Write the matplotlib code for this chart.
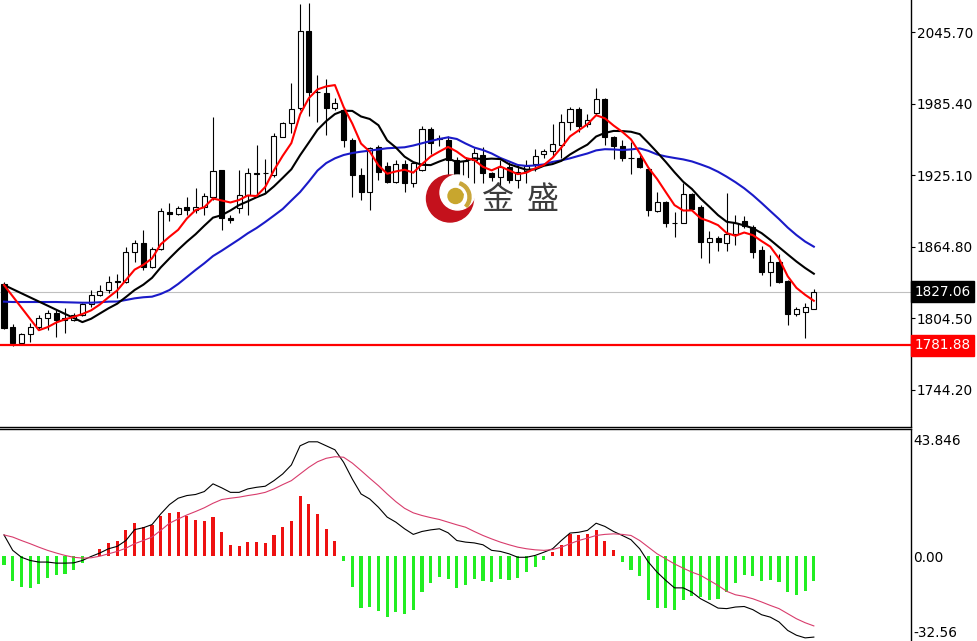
import numpy as np
import pandas as pd
import matplotlib
matplotlib.use("Agg")
import matplotlib.pyplot as plt
from matplotlib.patches import Circle, Wedge

# ---------------- data ----------------
opens = [1833.2, 1797.5, 1784.0, 1791.4, 1797.1, 1804.6, 1809.3, 1803.2, 1803.2, 1807.4,
         1816.6, 1824.2, 1828.4, 1835.4, 1835.4, 1860.7, 1867.9, 1848.0, 1862.7, 1894.4,
         1892.4, 1898.6, 1895.8, 1898.6, 1907.0, 1929.5, 1889.3, 1897.2, 1908.4, 1926.7,
         1926.7, 1925.2, 1957.5, 1968.8, 1981.4, 2046.8, 1995.4, 1994.6, 1981.4, 1980.0,
         1954.7, 1925.2, 1911.2, 1948.5, 1932.8, 1919.6, 1934.9, 1918.3, 1929.5, 1963.7,
         1956.1, 1954.7, 1937.9, 1915.5, 1937.9, 1942.1, 1926.7, 1923.2, 1931.7, 1921.0,
         1929.0, 1934.9, 1942.8, 1945.4, 1950.5, 1970.1, 1980.6, 1968.2, 1977.2, 1989.0,
         1957.0, 1949.7, 1940.0, 1939.8, 1929.9, 1895.2, 1902.3, 1885.2, 1885.0, 1909.0,
         1898.7, 1869.1, 1871.8, 1868.4, 1875.6, 1886.9, 1881.7, 1862.1, 1843.6, 1852.4,
         1836.4, 1808.2, 1810.3, 1812.8]
highs = [1834.9, 1799.8, 1792.0, 1800.4, 1807.4, 1811.6, 1811.6, 1813.3, 1808.8, 1817.7,
         1828.4, 1832.6, 1840.2, 1842.3, 1864.9, 1870.5, 1878.9, 1864.9, 1897.2, 1901.9,
         1899.1, 1907.0, 1914.0, 1909.9, 1974.3, 1929.5, 1891.6, 1929.5, 1930.9, 1950.5,
         1938.5, 1960.4, 1970.1, 2002.5, 2069.3, 2070.4, 2009.5, 2005.9, 1989.9, 1981.4,
         1956.1, 1930.9, 1948.5, 1950.5, 1936.4, 1937.9, 1937.9, 1936.4, 1966.2, 1966.0,
         1958.9, 1957.7, 1940.6, 1940.6, 1948.4, 1949.1, 1928.0, 1937.9, 1936.4, 1933.7,
         1937.9, 1947.4, 1947.4, 1967.8, 1976.6, 1982.8, 1982.5, 1976.6, 1998.3, 1990.1,
         1958.1, 1954.7, 1953.0, 1942.1, 1932.2, 1911.2, 1903.4, 1894.4, 1918.2, 1909.7,
         1900.0, 1878.1, 1873.9, 1909.9, 1892.0, 1890.5, 1883.1, 1865.5, 1857.9, 1858.7,
         1836.8, 1814.1, 1817.5, 1829.0]
lows = [1795.6, 1781.0, 1783.8, 1784.9, 1794.7, 1794.7, 1788.6, 1792.2, 1802.6, 1806.5,
        1814.4, 1823.6, 1825.7, 1821.4, 1834.1, 1852.2, 1845.2, 1846.7, 1862.1, 1886.8,
        1891.6, 1891.6, 1893.0, 1891.6, 1904.2, 1878.9, 1884.6, 1893.0, 1891.6, 1907.0,
        1909.9, 1923.8, 1957.0, 1960.4, 1980.0, 1974.9, 1970.1, 1958.9, 1980.0, 1949.1,
        1907.0, 1904.2, 1895.8, 1921.0, 1918.3, 1918.3, 1911.2, 1915.5, 1928.4, 1942.7,
        1950.1, 1915.5, 1912.6, 1908.4, 1918.3, 1918.3, 1920.2, 1915.5, 1918.7, 1914.0,
        1918.3, 1928.4, 1939.6, 1940.6, 1939.6, 1963.1, 1961.7, 1965.9, 1976.2, 1950.5,
        1938.4, 1937.0, 1926.0, 1930.8, 1890.7, 1894.4, 1881.7, 1873.0, 1884.6, 1895.8,
        1855.2, 1850.9, 1861.3, 1861.3, 1866.3, 1881.0, 1855.4, 1841.0, 1831.4, 1834.1,
        1798.9, 1806.9, 1787.9, 1812.0]
closes = [1796.1, 1783.6, 1791.4, 1797.1, 1804.6, 1808.8, 1803.2, 1804.9, 1807.4, 1816.6,
          1824.2, 1827.8, 1835.4, 1836.0, 1860.7, 1867.9, 1848.0, 1862.7, 1895.2, 1892.4,
          1897.2, 1895.8, 1897.9, 1907.6, 1928.9, 1888.8, 1887.4, 1908.4, 1926.7, 1926.4,
          1926.9, 1958.1, 1968.8, 1980.6, 2046.8, 1995.4, 1995.2, 1981.4, 1986.2, 1954.7,
          1925.2, 1911.2, 1947.7, 1928.0, 1919.6, 1934.9, 1918.3, 1935.4, 1963.7, 1952.1,
          1955.6, 1937.9, 1915.5, 1937.0, 1943.5, 1926.7, 1923.2, 1931.7, 1920.8, 1927.5,
          1933.2, 1941.2, 1945.7, 1951.3, 1970.3, 1980.6, 1966.5, 1971.6, 1989.0, 1957.5,
          1950.1, 1940.0, 1939.8, 1931.7, 1895.8, 1902.3, 1884.6, 1885.0, 1909.0, 1896.4,
          1869.1, 1871.8, 1868.8, 1875.6, 1885.2, 1882.7, 1860.8, 1843.6, 1852.2, 1835.1,
          1808.2, 1812.0, 1814.3, 1827.06]

ma_slow = [1818.6, 1818.3, 1818.3, 1818.3, 1818.3, 1818.3, 1818.3, 1818.1, 1817.9, 1817.7,
           1817.7, 1818.1, 1818.6, 1818.7, 1820.0, 1821.4, 1822.3, 1822.8, 1825.1, 1828.4,
           1833.5, 1839.4, 1845.3, 1850.9, 1857.0, 1861.5, 1866.3, 1871.1, 1876.2, 1880.6,
           1885.7, 1891.1, 1896.6, 1903.8, 1910.9, 1919.7, 1929.0, 1935.3, 1939.3, 1942.1,
           1943.8, 1944.9, 1945.8, 1946.8, 1947.8, 1948.2, 1948.6, 1950.1, 1952.0, 1953.9,
           1955.6, 1957.0, 1955.6, 1951.8, 1948.4, 1946.3, 1943.4, 1939.6, 1936.7, 1933.7,
           1932.9, 1933.3, 1934.2, 1936.3, 1937.6, 1939.3, 1941.4, 1943.4, 1946.0, 1947.0,
           1946.8, 1946.3, 1946.8, 1947.7, 1945.6, 1942.6, 1940.9, 1939.6, 1938.4, 1936.7,
           1934.2, 1931.5, 1928.0, 1923.8, 1919.2, 1914.1, 1908.2, 1901.7, 1894.9, 1888.2,
           1881.0, 1874.7, 1869.2, 1864.9]
ma_fast_start = 1832.6
ma_mid_start = 1832.6

macd_dif = [8.1, 2.3, -0.3, -1.5, -2.1, -2.1, -2.5, -2.5, -2.4, -1.5,
            0.0, 1.3, 2.9, 3.8, 6.0, 10.1, 10.8, 12.0, 16.0, 19.5,
            21.9, 22.9, 23.3, 24.4, 27.3, 25.8, 24.1, 24.1, 25.4, 26.0,
            26.4, 28.5, 31.0, 34.4, 41.6, 43.1, 43.1, 41.6, 40.1, 35.4,
            29.1, 23.5, 21.6, 18.5, 14.8, 12.9, 10.4, 8.3, 9.4, 10.0,
            10.4, 8.9, 6.0, 5.4, 5.1, 4.4, 2.3, 1.9, 1.0, -0.3,
            -0.3, 0.4, 1.6, 2.9, 6.0, 8.8, 9.1, 9.8, 12.5, 11.3,
            9.4, 7.9, 6.3, 2.9, -2.1, -5.9, -9.0, -11.8, -11.8, -13.4,
            -15.9, -17.6, -19.4, -19.6, -19.0, -18.8, -20.0, -21.9, -22.8, -24.6,
            -27.8, -29.6, -30.6, -30.3]
macd_dea = [8.1, 7.3, 6.0, 4.8, 3.5, 2.3, 1.3, 0.4, -0.3, -0.6,
            -0.5, 0.1, 1.0, 1.9, 3.1, 4.8, 6.0, 7.3, 9.8, 12.5,
            14.1, 15.6, 16.9, 18.3, 20.0, 21.4, 21.9, 22.3, 22.9, 23.4,
            24.1, 25.4, 27.0, 28.5, 31.0, 33.5, 35.6, 36.9, 37.5, 37.3,
            35.1, 32.3, 29.4, 26.6, 23.5, 20.6, 18.1, 16.4, 15.4, 14.6,
            13.9, 12.9, 11.9, 11.0, 9.4, 7.9, 6.6, 5.4, 4.4, 3.5,
            2.9, 2.5, 2.3, 2.6, 3.5, 4.8, 6.0, 6.9, 7.9, 8.3,
            8.5, 8.3, 7.9, 6.0, 3.5, 1.0, -0.9, -2.8, -4.4, -5.9,
            -7.1, -9.0, -10.9, -13.1, -14.4, -15.0, -15.9, -17.1, -18.4, -19.6,
            -21.5, -23.4, -24.9, -26.1]
macd_hist = [-3.1, -9.3, -11.5, -11.9, -10.3, -8.1, -7.1, -6.5, -4.9, -2.4,
             0.3, 2.9, 4.9, 6.0, 9.8, 12.7, 11.0, 11.7, 15.2, 16.4,
             16.8, 15.4, 13.8, 13.5, 14.7, 9.3, 4.5, 4.1, 5.3, 5.6,
             4.9, 8.1, 11.0, 13.2, 22.6, 19.7, 16.0, 10.2, 6.0, -1.6,
             -11.5, -19.4, -19.0, -20.6, -22.6, -20.9, -21.8, -20.0, -13.4, -9.9,
             -7.8, -8.6, -11.9, -10.6, -8.6, -9.4, -9.6, -8.6, -8.8, -8.1,
             -5.9, -4.0, -1.5, 1.5, 4.4, 8.5, 7.9, 8.3, 9.9, 6.0,
             2.3, -2.1, -4.9, -7.4, -16.3, -19.3, -19.3, -20.1, -16.3, -14.7,
             -15.3, -16.3, -15.9, -13.2, -9.9, -6.9, -7.4, -9.4, -9.0, -9.6,
             -13.4, -14.3, -13.0, -9.3]

price_ticks = [2045.70, 1985.40, 1925.10, 1864.80, 1804.50, 1744.20]
macd_ticks = [43.846, 0.00]
macd_tick_labels = ['43.846', '0.00']
macd_low_label = -32.56
last_price = 1827.06
support_level = 1781.88
watermark = ['金', '盛']

# ---------------- figure ----------------
W, H = 977, 641
fig = plt.figure(figsize=(W / 100, H / 100), dpi=100)
fig.patch.set_facecolor('white')

right_px = 910.5
main_bottom_px = 426.7
macd_top_px = 429.3

ax = fig.add_axes([0, 1 - main_bottom_px / H, right_px / W, main_bottom_px / H])
axm = fig.add_axes([0, 0, right_px / W, 1 - macd_top_px / H])

n = len(closes)
x = np.arange(n)
o = np.array(opens)
c = np.array(closes)
hi = np.array(highs)
lo = np.array(lows)
up = c >= o

xlim = (-0.46, 104.1)

# candles
ax.vlines(x, lo, hi, color='black', lw=0.8, zorder=2)
bb = np.minimum(o, c)
bh = np.maximum(np.abs(c - o), 0.15)
ax.bar(x[up], bh[up], bottom=bb[up], width=0.58, facecolor='white',
       edgecolor='black', lw=0.8, zorder=3)
ax.bar(x[~up], bh[~up], bottom=bb[~up], width=0.58, facecolor='black',
       edgecolor='black', lw=0.8, zorder=3)

# moving averages
cs = pd.Series(closes)
ma5 = cs.rolling(5).mean()
ma10 = cs.rolling(10).mean()


def with_start(ma, start):
    valid = ma.notna().values
    xs = np.concatenate([[0], x[valid]])
    ys = np.concatenate([[start], ma.values[valid]])
    return xs, ys


ax.plot(x, ma_slow, color='#1a1ac8', lw=1.5, zorder=4)
xs, ys = with_start(ma10, ma_mid_start)
ax.plot(xs, ys, color='black', lw=1.5, zorder=5)
xs, ys = with_start(ma5, ma_fast_start)
ax.plot(xs, ys, color='#ff0000', lw=1.5, zorder=6)

ax.axhline(last_price, color='#c0c0c0', lw=0.8, zorder=1)
ax.axhline(support_level, color='#ff0000', lw=1.6, zorder=7)

ax.set_xlim(*xlim)
ax.set_ylim(1713.29, 2072.65)
ax.yaxis.tick_right()
ax.set_yticks(price_ticks)
ax.set_yticklabels([f'{v:.2f}' for v in price_ticks])
ax.tick_params(axis='y', length=3, width=0.8, pad=1.6, labelsize=9.8, colors='black')
ax.tick_params(axis='x', bottom=False, labelbottom=False)
for s in ['top', 'left']:
    ax.spines[s].set_visible(False)
for s in ['right', 'bottom']:
    ax.spines[s].set_color('black')
    ax.spines[s].set_linewidth(1.0)

ax.annotate(f'{last_price:.2f}', xy=(1, last_price), xycoords=('axes fraction', 'data'),
            xytext=(3.0, 0), textcoords='offset points', ha='left', va='center',
            color='white', fontsize=9.8, annotation_clip=False, zorder=20,
            bbox=dict(boxstyle='square,pad=0.25', fc='black', ec='black'))
ax.annotate(f'{support_level:.2f}', xy=(1, support_level), xycoords=('axes fraction', 'data'),
            xytext=(3.0, 0), textcoords='offset points', ha='left', va='center',
            color='white', fontsize=9.8, annotation_clip=False, zorder=20,
            bbox=dict(boxstyle='square,pad=0.25', fc='#ff0000', ec='#ff0000'))

# MACD panel
hist = np.array(macd_hist)
colors = np.where(hist > 0, '#ee1111', '#22ee22')
axm.bar(x, hist, width=0.36, color=colors, zorder=2)
axm.plot(x, macd_dif, color='black', lw=0.8, zorder=3)
axm.plot(x, macd_dea, color='#d83c6c', lw=0.8, zorder=3)
axm.set_xlim(*xlim)
axm.set_ylim(-31.77, 47.8)
axm.yaxis.tick_right()
axm.set_yticks(macd_ticks)
axm.set_yticklabels(macd_tick_labels)
axm.tick_params(axis='y', length=0, pad=2.2, labelsize=9.8, colors='black')
axm.tick_params(axis='x', bottom=False, labelbottom=False)
for s in ['bottom', 'left']:
    axm.spines[s].set_visible(False)
for s in ['top', 'right']:
    axm.spines[s].set_color('black')
    axm.spines[s].set_linewidth(1.0)
# bottom scale label, kept just inside the figure edge
axm.annotate(f'{macd_low_label:.2f}', xy=(1, 0), xycoords='axes fraction',
             xytext=(2.2, 1.0), textcoords='offset points', ha='left', va='bottom',
             color='black', fontsize=9.8, annotation_clip=False)

# watermark logo overlay (pixel coordinates)
ov = fig.add_axes([0, 0, 1, 1], zorder=10)
ov.set_xlim(0, W)
ov.set_ylim(H, 0)
ov.axis('off')
ov.patch.set_alpha(0)
ov.add_patch(Circle((450, 198.5), 23.5, color='#c4111c', zorder=1))
ov.add_patch(Circle((457.5, 192.5), 17.5, color='white', zorder=2))
ov.add_patch(Wedge((455, 197), 16, -70, 40, width=3, color='#c9a63a', zorder=3))
ov.add_patch(Wedge((452, 190), 12, 20, 90, width=2.5, color='#c9a63a', zorder=3))
ov.add_patch(Circle((455.5, 196), 7.5, color='#c8a62e', zorder=4))
for ch, cx in zip(watermark, [498, 543]):
    ov.text(cx, 200, ch, ha='center', va='center', fontsize=23, color='#3c3c3c',
            family=['Noto Sans CJK SC', 'DejaVu Sans'], zorder=5)

fig.savefig('out.png', dpi=100, facecolor='white')
